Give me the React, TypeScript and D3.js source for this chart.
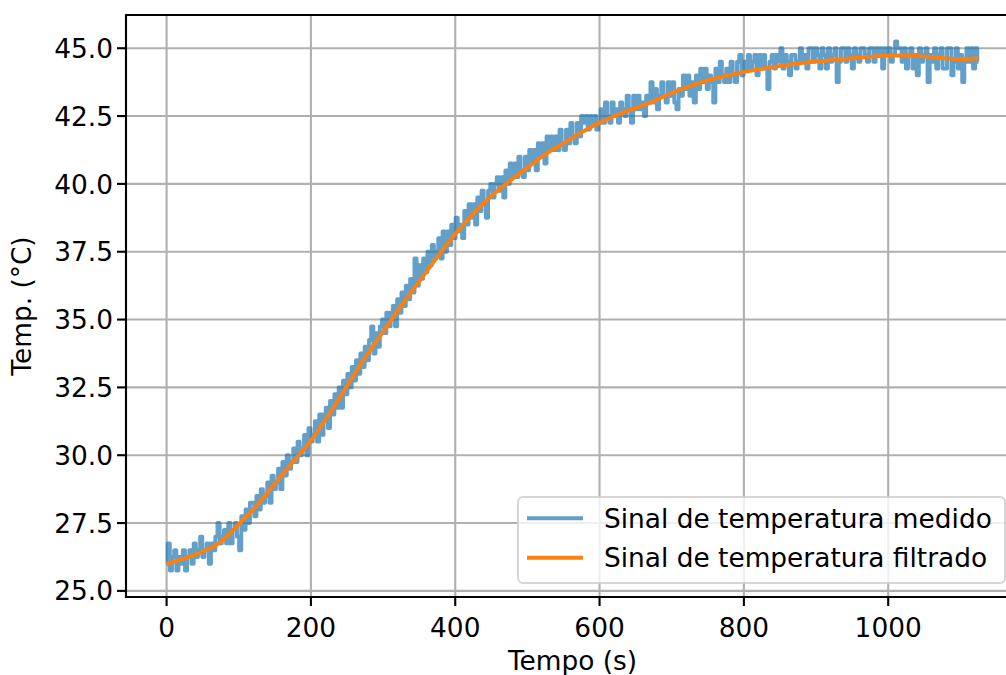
import React from "react";
import * as d3 from "d3";

// ---------- data ----------
const SAMPLE_PERIOD = 3; // s, measured signal sampling used here

const measured: number[] = [
  26.0, 26.75, 25.75, 26.25, 26.5, 25.75, 26.25, 26.0, 26.5, 25.75, 26.25, 26.5, 26.0, 26.75, 26.25, 26.5, 27.0, 26.25, 26.5, 26.75,
  26.0, 26.75, 26.5, 27.0, 27.5, 26.75, 27.0, 27.25, 26.75, 27.5, 26.75, 27.25, 27.5, 27.0, 26.5, 27.75, 27.25, 28.0, 27.5, 28.25,
  28.25, 27.75, 28.5, 28.0, 28.75, 28.25, 28.5, 29.0, 28.25, 29.25, 28.75, 29.0, 29.5, 28.75, 29.75, 29.25, 30.0, 29.5, 29.75, 30.25,
  29.75, 30.5, 30.0, 30.25, 30.75, 30.0, 31.0, 30.5, 30.75, 31.25, 30.5, 31.5, 30.75, 31.5, 31.75, 31.0, 32.0, 31.5, 32.25, 31.75,
  32.5, 31.75, 32.75, 32.25, 33.0, 32.5, 33.25, 32.75, 33.5, 33.0, 33.75, 33.25, 34.0, 33.5, 34.25, 34.75, 33.75, 34.5, 34.0, 34.75,
  35.0, 34.5, 35.25, 34.75, 35.25, 35.5, 34.75, 35.75, 35.25, 36.0, 35.5, 36.25, 35.75, 36.5, 36.0, 37.25, 36.25, 37.0, 36.5, 37.25,
  36.75, 37.5, 37.0, 37.75, 37.25, 37.5, 38.0, 37.25, 38.25, 37.5, 38.25, 37.75, 38.5, 38.0, 38.75, 38.25, 38.5, 38.0, 39.0, 38.5,
  39.25, 38.75, 39.25, 38.5, 39.5, 39.0, 39.75, 39.25, 38.75, 39.75, 40.0, 39.5, 40.0, 40.25, 39.75, 40.25, 39.5, 40.5, 40.0, 40.75,
  40.25, 40.75, 40.25, 41.0, 40.5, 40.25, 41.0, 40.5, 41.25, 40.75, 41.25, 40.5, 41.5, 41.0, 41.5, 40.75, 41.75, 41.25, 41.75, 41.25,
  41.75, 41.25, 42.0, 41.5, 41.25, 42.0, 41.5, 42.25, 41.75, 41.5, 42.25, 41.75, 42.5, 42.25, 42.5, 42.0, 42.5, 42.25, 42.5, 42.0,
  42.25, 42.75, 42.25, 43.0, 42.5, 42.25, 43.0, 42.5, 42.75, 42.25, 43.0, 42.75, 42.5, 43.25, 42.75, 42.25, 43.25, 42.75, 43.25, 42.75,
  43.0, 42.5, 43.25, 43.0, 43.75, 43.0, 43.5, 42.75, 43.25, 43.75, 43.25, 43.0, 43.75, 43.25, 43.75, 43.0, 42.75, 43.5, 43.25, 44.0,
  43.5, 44.0, 43.25, 43.75, 43.0, 44.0, 43.5, 44.25, 43.75, 44.25, 43.5, 44.0, 43.75, 43.0, 44.25, 43.75, 44.5, 44.0, 43.75, 44.25,
  43.75, 44.5, 44.0, 43.75, 44.5, 44.75, 44.0, 44.5, 44.25, 44.75, 44.25, 44.5, 44.75, 44.0, 44.75, 44.25, 44.75, 44.25, 43.5, 44.5,
  44.75, 44.25, 44.75, 44.5, 45.0, 44.25, 44.75, 44.5, 44.0, 44.75, 44.75, 44.25, 44.5, 45.0, 44.5, 44.75, 44.25, 45.0, 45.0, 44.5,
  45.0, 44.75, 44.25, 45.0, 44.75, 44.25, 45.0, 44.5, 44.75, 45.0, 43.75, 44.5, 45.0, 45.0, 44.5, 45.0, 44.75, 44.25, 45.0, 44.75,
  44.5, 45.0, 45.0, 44.75, 44.5, 45.0, 45.0, 44.5, 45.0, 44.75, 45.0, 44.25, 45.0, 44.75, 45.0, 44.5, 44.75, 45.25, 45.0, 45.0,
  44.5, 45.0, 44.25, 44.75, 45.0, 44.25, 44.75, 44.0, 45.0, 44.5, 44.75, 45.0, 43.75, 44.75, 44.5, 45.0, 44.25, 44.75, 45.0, 44.25,
  44.25, 45.0, 45.0, 44.0, 44.5, 45.0, 44.25, 44.75, 43.75, 44.5, 45.0, 44.5, 45.0, 44.25, 45.0, 44.5,
];

const filteredTimes: number[] = [
  0, 25, 50, 75, 100, 125, 150, 175, 200, 225, 250, 275, 300, 325, 350, 375, 400, 425, 450, 475,
  500, 525, 550, 575, 600, 625, 650, 675, 700, 725, 750, 775, 800, 825, 850, 875, 900, 925, 950, 975,
  1000, 1025, 1050, 1075, 1100, 1125,
];
const filtered: number[] = [
  26.0, 26.2, 26.45, 26.8, 27.45, 28.15, 28.95, 29.75, 30.55, 31.5, 32.55, 33.6, 34.55, 35.5, 36.4, 37.3, 38.15, 38.9, 39.55, 40.1,
  40.6, 41.1, 41.5, 41.9, 42.25, 42.55, 42.8, 43.05, 43.35, 43.6, 43.82, 43.98, 44.12, 44.24, 44.35, 44.44, 44.51, 44.57, 44.63, 44.69,
  44.73, 44.73, 44.7, 44.64, 44.6, 44.62,
];

const xTicks: number[] = [0, 200, 400, 600, 800, 1000];
const yTicks: number[] = [25.0, 27.5, 30.0, 32.5, 35.0, 37.5, 40.0, 42.5, 45.0];
const seriesNames: string[] = ["Sinal de temperatura medido", "Sinal de temperatura filtrado"];
const xLabel = "Tempo (s)";
const yLabel = "Temp. (°C)";

// ---------- layout ----------
const W = 1006;
const H = 675;
const M = { left: 126, top: 15, right: 1019, bottom: 597 };
const FS = 26.4;
const FONT = "'DejaVu Sans', sans-serif";
const BLUE = "#1f77b4";
const ORANGE = "#ff7f0e";
const LW = 3.9;
const GRID_W = 2.1;
const TICK_LEN = 9;

export default function App() {
  const x = d3.scaleLinear().domain([-56.25, 1181.25]).range([M.left, M.right]);
  const y = d3.scaleLinear().domain([24.775, 46.225]).range([M.bottom, M.top]);

  const measuredPts: [number, number][] = measured.map((v, i) => [i * SAMPLE_PERIOD, v]);
  const filteredPts: [number, number][] = filtered.map((v, i) => [filteredTimes[i], v]);

  const lineMeasured = d3
    .line<[number, number]>()
    .x((d) => x(d[0]))
    .y((d) => y(d[1]))
    .curve(d3.curveStep);
  const lineSmooth = d3
    .line<[number, number]>()
    .x((d) => x(d[0]))
    .y((d) => y(d[1]))
    .curve(d3.curveMonotoneX);

  const fmtY = d3.format(".1f");

  const legX = 518;
  const legY = 497;
  const legW = 487;
  const legH = 86;

  return (
    <svg
      width={W}
      height={H}
      style={{ position: "absolute", left: 0, top: 0, background: "#fff" }}
      fontFamily={FONT}
    >
      <rect x={0} y={0} width={W} height={H} fill="#fff" />
      <defs>
        <clipPath id="plotClip">
          <rect x={M.left} y={M.top} width={M.right - M.left} height={M.bottom - M.top} />
        </clipPath>
      </defs>

      {/* grid */}
      <g stroke="#b0b0b0" strokeWidth={GRID_W}>
        {xTicks.map((t) => (
          <line key={"gx" + t} x1={x(t)} x2={x(t)} y1={M.top} y2={M.bottom} />
        ))}
        {yTicks.map((t) => (
          <line key={"gy" + t} x1={M.left} x2={M.right} y1={y(t)} y2={y(t)} />
        ))}
      </g>

      {/* series */}
      <g clipPath="url(#plotClip)" fill="none" strokeLinejoin="round">
        <path d={lineMeasured(measuredPts) || ""} stroke={BLUE} strokeOpacity={0.7} strokeWidth={LW} />
        <path d={lineSmooth(filteredPts) || ""} stroke={ORANGE} strokeWidth={LW} />
      </g>

      {/* spines */}
      <g stroke="#000" strokeWidth={GRID_W} fill="none">
        <line x1={M.left} x2={M.left} y1={M.top} y2={M.bottom} strokeLinecap="square" />
        <line x1={M.left} x2={M.right} y1={M.bottom} y2={M.bottom} strokeLinecap="square" />
        <line x1={M.left} x2={M.right} y1={M.top} y2={M.top} strokeLinecap="square" />
        <line x1={M.right} x2={M.right} y1={M.top} y2={M.bottom} />
      </g>

      {/* x ticks */}
      <g>
        {xTicks.map((t) => (
          <g key={"xt" + t}>
            <line x1={x(t)} x2={x(t)} y1={M.bottom} y2={M.bottom + TICK_LEN} stroke="#000" strokeWidth={GRID_W} />
            <text x={x(t)} y={636.5} fontSize={FS} textAnchor="middle" fill="#000">
              {String(t)}
            </text>
          </g>
        ))}
      </g>

      {/* y ticks */}
      <g>
        {yTicks.map((t) => (
          <g key={"yt" + t}>
            <line x1={M.left - TICK_LEN} x2={M.left} y1={y(t)} y2={y(t)} stroke="#000" strokeWidth={GRID_W} />
            <text x={113} y={y(t) + 9.6} fontSize={FS} textAnchor="end" fill="#000">
              {fmtY(t)}
            </text>
          </g>
        ))}
      </g>

      {/* axis labels */}
      <text x={(M.left + M.right) / 2} y={670} fontSize={FS} textAnchor="middle" fill="#000">
        {xLabel}
      </text>
      <text
        transform={`translate(31, ${(M.top + M.bottom) / 2}) rotate(-90)`}
        fontSize={FS}
        textAnchor="middle"
        fill="#000"
      >
        {yLabel}
      </text>

      {/* legend */}
      <g>
        <rect
          x={legX}
          y={legY}
          width={legW}
          height={legH}
          rx={5}
          ry={5}
          fill="#fff"
          fillOpacity={0.8}
          stroke="#cccccc"
          strokeOpacity={0.8}
          strokeWidth={2}
        />
        {seriesNames.map((name, i) => {
          const cy = 518.3 + i * 39.4;
          return (
            <g key={name}>
              <line
                x1={527}
                x2={583}
                y1={cy}
                y2={cy}
                stroke={i === 0 ? BLUE : ORANGE}
                strokeOpacity={i === 0 ? 0.7 : 1}
                strokeWidth={LW}
              />
              <text x={604} y={cy + 9.2} fontSize={FS} fill="#000">
                {name}
              </text>
            </g>
          );
        })}
      </g>
    </svg>
  );
}
